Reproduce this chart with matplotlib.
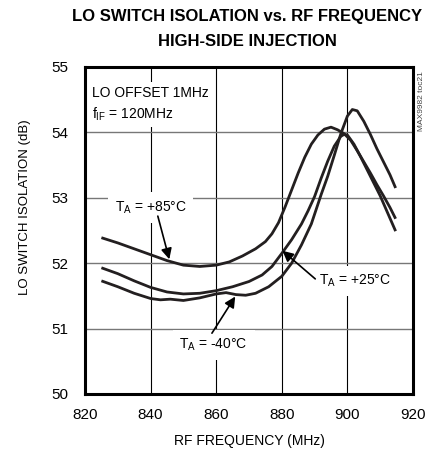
import matplotlib
matplotlib.use('Agg')
import matplotlib.pyplot as plt

plt.rcParams['font.family'] = ['Liberation Sans', 'DejaVu Sans']
plt.rcParams['mathtext.fontset'] = 'custom'
plt.rcParams['mathtext.rm'] = 'Liberation Sans'

# LO switch isolation (dB) vs RF frequency (MHz)
freq_85 = [825, 830, 835, 840, 845, 850, 855, 860, 864, 868, 872, 875, 877, 879, 881, 883,
           885, 887, 889, 891, 893, 895, 897, 899, 901, 903, 905, 907, 909, 911, 913, 914.7]
iso_85 = [52.39, 52.31, 52.22, 52.13, 52.04, 51.97, 51.95, 51.97, 52.02, 52.11, 52.22, 52.33,
          52.45, 52.62, 52.86, 53.12, 53.38, 53.62, 53.82, 53.96, 54.05, 54.08, 54.04, 53.98,
          53.88, 53.72, 53.55, 53.38, 53.2, 53.03, 52.85, 52.68]

freq_25 = [825, 830, 835, 840, 845, 850, 855, 860, 865, 870, 874, 877, 880, 883, 886, 888,
           890, 892, 894, 896, 898, 899, 900, 902, 904, 906, 908, 910, 912, 914.7]
iso_25 = [51.93, 51.84, 51.73, 51.63, 51.56, 51.53, 51.54, 51.58, 51.64, 51.72, 51.82, 51.95,
          52.15, 52.36, 52.6, 52.8, 53.02, 53.3, 53.56, 53.79, 53.94, 53.97, 53.96, 53.82,
          53.63, 53.43, 53.23, 53.03, 52.8, 52.49]

freq_m40 = [825, 830, 835, 840, 843, 846, 850, 855, 860, 863, 866, 869, 872, 876, 880, 883,
            886, 889, 892, 894, 896, 898, 900, 901.5, 903, 905, 907, 909, 911, 913, 914.7]
iso_m40 = [51.73, 51.64, 51.54, 51.46, 51.44, 51.45, 51.43, 51.47, 51.53, 51.55, 51.52, 51.51,
           51.54, 51.64, 51.8, 52.0, 52.28, 52.6, 53.05, 53.33, 53.65, 53.98, 54.25, 54.35,
           54.33, 54.17, 53.97, 53.75, 53.55, 53.35, 53.15]

xticks = [820, 840, 860, 880, 900, 920]
yticks = [50, 51, 52, 53, 54, 55]

fig = plt.figure(figsize=(4.33, 4.53), dpi=100)
ax = fig.add_axes([85/433, 59/453, 328/433, 327/453])

for f, v in [(freq_85, iso_85), (freq_25, iso_25), (freq_m40, iso_m40)]:
    ax.plot(f, v, color='#231f20', lw=2.0, zorder=5, solid_capstyle='butt')

ax.set_xlim(820, 920)
ax.set_ylim(50, 55)
ax.set_xticks(xticks)
ax.set_yticks(yticks)
for x in xticks[1:-1]:
    ax.axvline(x, color='black', lw=0.8, zorder=1)
for y in yticks[1:-1]:
    ax.axhline(y, color='#777777', lw=1.0, zorder=1)
ax.tick_params(length=0, labelsize=11, pad=10)
ax.tick_params(axis='y', pad=12)
for s in ax.spines.values():
    s.set_linewidth(2.2)
    s.set_zorder(6)

box = dict(fc='white', ec='none', pad=3)
ax.text(822.2, 54.6, 'LO OFFSET 1MHz', fontsize=10, va='center', ha='left', bbox=box, zorder=3)
ax.text(822.2, 54.28, 'f$_\\mathregular{IF}$ = 120MHz', fontsize=10, va='center', ha='left',
        bbox=box, zorder=3)

arrow = dict(arrowstyle='-|>', color='black', lw=1.2, mutation_scale=16,
             shrinkA=0, shrinkB=0)
ax.annotate('', xy=(845.7, 52.06), xytext=(842.2, 52.72), arrowprops=arrow, zorder=7)
ax.text(829.0, 52.85, 'T$_\\mathregular{A}$ = +85°C', fontsize=10, va='center', ha='left',
        bbox=dict(fc='white', ec='none', pad=5), zorder=3)

ax.annotate('', xy=(880.2, 52.19), xytext=(890.2, 51.76), arrowprops=arrow, zorder=7)
ax.text(891.4, 51.73, 'T$_\\mathregular{A}$ = +25°C', fontsize=10, va='center', ha='left',
        bbox=dict(fc='white', ec='none', pad=5), zorder=3)

ax.annotate('', xy=(865.8, 51.49), xytext=(858.7, 50.93), arrowprops=arrow, zorder=7)
ax.text(848.8, 50.75, 'T$_\\mathregular{A}$ = -40°C', fontsize=10, va='center', ha='left',
        bbox=dict(fc='white', ec='none', pad=5), zorder=3)

fig.text(421.5/433, 1 - 101/453, 'MAX9982 toc21', rotation=90, fontsize=6, color='#444444',
         ha='center', va='center')

fig.text(247/433, 1 - 16/453, 'LO SWITCH ISOLATION vs. RF FREQUENCY', fontsize=12,
         fontweight='bold', ha='center', va='center')
fig.text(247/433, 1 - 41/453, 'HIGH-SIDE INJECTION', fontsize=12, fontweight='bold',
         ha='center', va='center')
fig.text(249/433, 1 - 441/453, 'RF FREQUENCY (MHz)', fontsize=10, ha='center', va='center')
fig.text(25/433, 1 - 207/453, 'LO SWITCH ISOLATION (dB)', fontsize=9.5, rotation=90,
         ha='center', va='center')

fig.savefig('out.png', dpi=100)
